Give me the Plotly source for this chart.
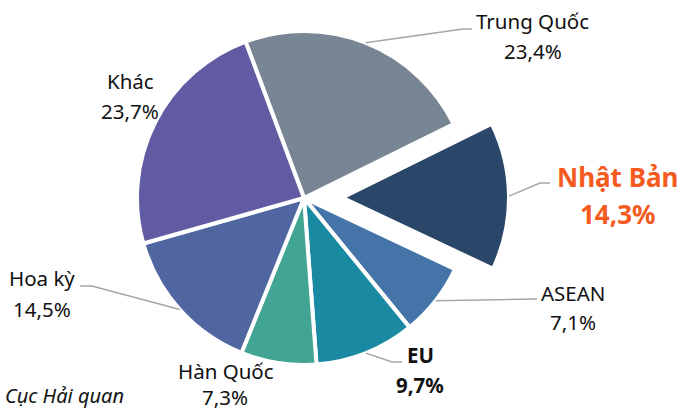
import math
import plotly.graph_objects as go

labels = ["Trung Quốc", "Nhật Bản", "ASEAN", "EU", "Hàn Quốc", "Hoa kỳ", "Khác"]
values = [23.4, 14.3, 7.1, 9.7, 7.3, 14.5, 23.7]
value_text = ["23,4%", "14,3%", "7,1%", "9,7%", "7,3%", "14,5%", "23,7%"]
colors = ["#788595", "#2A4769", "#4574A8", "#1A89A2", "#42A593", "#5066A1", "#615BA3"]
source = "Cục Hải quan"

W, H = 682, 411
CX, CY, R = 304, 198, 167   # pie centre / radius in px
ROT = -20.5
EXPLODE = 38                # px shift of the Nhật Bản slice
hl = 1                      # index of the exploded slice


def px(x, y):
    return x / W, 1 - y / H


def mid_point(i, cx, cy):
    start = ROT + sum(values[:i]) * 3.6
    a = math.radians(start + values[i] * 1.8)
    return cx + R * math.sin(a), cy - R * math.cos(a)


clear = "rgba(0,0,0,0)"
base_colors = [clear if i == hl else c for i, c in enumerate(colors)]
base_lines = [clear if i == hl else "white" for i in range(len(values))]
top_colors = [c if i == hl else clear for i, c in enumerate(colors)]
top_lines = ["white" if i == hl else clear for i in range(len(values))]

# explode direction of the highlighted slice
a_hl = math.radians(ROT + sum(values[:hl]) * 3.6 + values[hl] * 1.8)
CX2 = CX + EXPLODE * math.sin(a_hl)
CY2 = CY - EXPLODE * math.cos(a_hl)


def domain(cx, cy):
    x0, y1 = px(cx - R, cy - R)
    x1, y0 = px(cx + R, cy + R)
    return dict(x=[x0, x1], y=[y0, y1])


fig = go.Figure()
for cols, lines, (cx, cy) in [(base_colors, base_lines, (CX, CY)),
                              (top_colors, top_lines, (CX2, CY2))]:
    fig.add_trace(go.Pie(
        labels=labels, values=values, sort=False, direction="clockwise",
        rotation=ROT, textinfo="none", hoverinfo="skip", showlegend=False,
        marker=dict(colors=cols, line=dict(color=lines, width=4)),
        domain=domain(cx, cy),
    ))

# leader lines: (slice index, elbow px, end px)
leaders = [
    (0, (463, 29), (472, 29)),
    (1, (540, 183), (550, 183)),
    (2, (535, 299), (537, 299)),
    (3, (392, 362), (402, 362)),
    (5, (92, 286), (80, 286)),
]
for i, elbow, end in leaders:
    if i == hl:
        sx, sy = mid_point(i, CX2, CY2)
    else:
        sx, sy = mid_point(i, CX, CY)
    pts = [px(sx, sy), px(*elbow), px(*end)]
    path = "M {} {} L {} {} L {} {}".format(*[v for p in pts for v in p])
    fig.add_shape(type="path", path=path, xref="paper", yref="paper",
                  line=dict(color="#A6A6A6", width=1.5))

# label positions (centre px of name line, value line)
label_pos = {
    0: ((532, 21), (533, 51)),
    1: ((617, 177), (617, 214)),
    2: ((573, 293), (573, 322)),
    3: ((420, 355), (420, 385)),
    4: ((226, 371), (225, 397)),
    5: ((42, 278), (42, 309)),
    6: ((130, 81), (130, 111)),
}
normal = dict(family="Noto Sans", size=20.5, color="#111111")
for i, (p1, p2) in label_pos.items():
    if i == hl:
        f = dict(family="Noto Sans", size=26, color="#F55A1E")
        t1, t2 = "<b>%s</b>" % labels[i], "<b>%s</b>" % value_text[i]
    elif labels[i] == "EU":
        f = normal
        t1, t2 = "<b>%s</b>" % labels[i], "<b>%s</b>" % value_text[i]
    else:
        f = normal
        t1, t2 = labels[i], value_text[i]
    for t, p in [(t1, p1), (t2, p2)]:
        x, y = px(*p)
        fig.add_annotation(text=t, x=x, y=y, xref="paper", yref="paper",
                           xanchor="center", yanchor="middle",
                           showarrow=False, font=f)

sx, sy = px(3, 395)
fig.add_annotation(text="<i>%s</i>" % source, x=sx, y=sy, xref="paper", yref="paper",
                   xanchor="left", yanchor="middle", showarrow=False,
                   font=dict(family="Noto Sans", size=20, color="#111111"))

fig.update_layout(width=W, height=H, margin=dict(l=0, r=0, t=0, b=0),
                  paper_bgcolor="white", plot_bgcolor="white")
fig.write_html(
    "out.html",
    config={"displayModeBar": False},
    post_script="document.body.style.margin='0px';"
                "document.documentElement.style.overflow='hidden';",
)
